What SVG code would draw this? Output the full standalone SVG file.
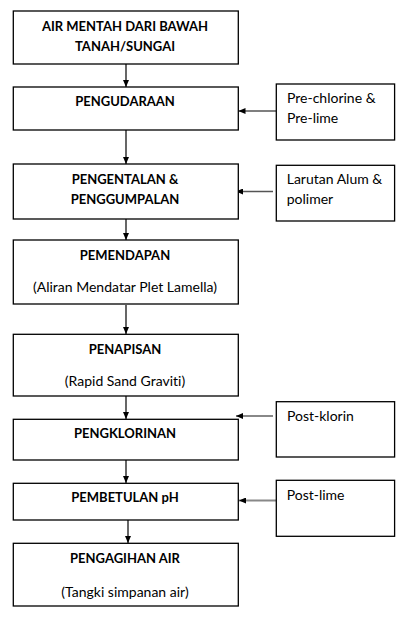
<svg xmlns="http://www.w3.org/2000/svg" width="406" height="621" viewBox="0 0 406 621">
<defs>
<style>
.box{fill:#fff;stroke:#000;stroke-width:1.3}
.t{font-family:Lato,"Liberation Sans",sans-serif;font-size:14px;fill:#000;font-variant-ligatures:none}
.b{font-weight:bold;font-size:13px;text-anchor:middle}
.m{text-anchor:middle}
.v{stroke:#000;stroke-width:1.2;fill:none}
.h1{stroke:#555;stroke-width:1.5;fill:none}
.h2{stroke:#888;stroke-width:2;fill:none}
</style>
<marker id="ab" viewBox="0 0 7 6" refX="7" refY="3" markerWidth="7" markerHeight="6" markerUnits="userSpaceOnUse" orient="auto"><path d="M0,0L7,3L0,6Z" fill="#000"/></marker>
</defs>
<rect width="406" height="621" fill="#fff"/>
<g id="connectors">
<line class="v" x1="126" y1="64" x2="126" y2="87" marker-end="url(#ab)"/>
<line class="v" x1="126" y1="130" x2="126" y2="164" marker-end="url(#ab)"/>
<line class="v" x1="126" y1="219" x2="126" y2="240" marker-end="url(#ab)"/>
<line class="v" x1="126" y1="305" x2="126" y2="334" marker-end="url(#ab)"/>
<line class="v" x1="126" y1="396" x2="126" y2="419" marker-end="url(#ab)"/>
<line class="v" x1="126" y1="460" x2="126" y2="483" marker-end="url(#ab)"/>
<line class="v" x1="128" y1="520" x2="128" y2="543" marker-end="url(#ab)"/>
<line class="h1" x1="276" y1="111" x2="238.5" y2="111" marker-end="url(#ab)"/>
<line class="h1" x1="273" y1="191.5" x2="236" y2="191.5" marker-end="url(#ab)"/>
<line class="h2" x1="273" y1="416" x2="236" y2="416" marker-end="url(#ab)"/>
<line class="h2" x1="276" y1="500.5" x2="239" y2="500.5" marker-end="url(#ab)"/>
</g>
<g id="n1"><rect class="box" x="13.3" y="11" width="225" height="53"/><text class="t b" x="125" y="30.7">AIR MENTAH DARI BAWAH</text><text class="t b" x="125" y="51">TANAH/SUNGAI</text></g>
<g id="n2"><rect class="box" x="13.3" y="87" width="225" height="43"/><text class="t b" x="125" y="106">PENGUDARAAN</text></g>
<g id="n3"><rect class="box" x="13.3" y="164" width="225" height="55"/><text class="t b" x="125" y="184">PENGENTALAN &amp;</text><text class="t b" x="125" y="204">PENGGUMPALAN</text></g>
<g id="n4"><rect class="box" x="13.3" y="240" width="225" height="64"/><text class="t b" x="125" y="260">PEMENDAPAN</text><text class="t m" x="125" y="291.5">(Aliran Mendatar Plet Lamella)</text></g>
<g id="n5"><rect class="box" x="13.3" y="334.3" width="225" height="61.7"/><text class="t b" x="125" y="354">PENAPISAN</text><text class="t m" x="125" y="386">(Rapid Sand Graviti)</text></g>
<g id="n6"><rect class="box" x="13.3" y="419.3" width="225" height="40.7"/><text class="t b" x="125" y="437.7">PENGKLORINAN</text></g>
<g id="n7"><rect class="box" x="13.3" y="483.3" width="225" height="36.7"/><text class="t b" x="125" y="502">PEMBETULAN pH</text></g>
<g id="n8"><rect class="box" x="13.3" y="543.3" width="225" height="62.7"/><text class="t b" x="125" y="562.7">PENGAGIHAN AIR</text><text class="t m" x="125" y="596.5">(Tangki simpanan air)</text></g>
<g id="r1"><rect class="box" x="276.3" y="84" width="118.3" height="56"/><text class="t" x="287" y="102.7">Pre-chlorine &amp;</text><text class="t" x="287" y="122.7">Pre-lime</text></g>
<g id="r2"><rect class="box" x="276.3" y="165.3" width="118.3" height="55.7"/><text class="t" x="286.7" y="184.3">Larutan Alum &amp;</text><text class="t" x="286.7" y="204">polimer</text></g>
<g id="r3"><rect class="box" x="276.3" y="401.7" width="118.3" height="55.3"/><text class="t" x="287" y="420.7">Post-klorin</text></g>
<g id="r4"><rect class="box" x="276.3" y="480.3" width="118.3" height="56"/><text class="t" x="286.7" y="500">Post-lime</text></g>
</svg>
